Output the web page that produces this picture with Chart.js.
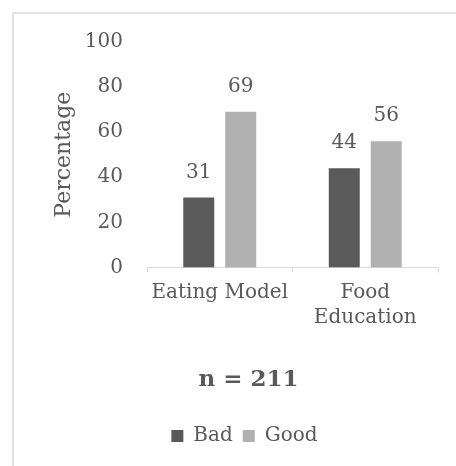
<!DOCTYPE html>
<html>
<head>
<meta charset="utf-8">
<script src="https://cdn.jsdelivr.net/npm/chart.js@4/dist/chart.umd.min.js"></script>
<style>
  html, body { margin: 0; padding: 0; background: #ffffff; overflow: hidden; }
  #wrap { position: relative; width: 456px; height: 466px; }
  #frame { position: absolute; left: 12px; top: 12px; width: 480px; height: 480px;
           border: 2px solid #e2e2e2; box-sizing: border-box; }
  #c { position: absolute; left: 0; top: 0; }
</style>
</head>
<body>
<div id="wrap">
  <div id="frame"></div>
  <canvas id="c" width="456" height="466"></canvas>
</div>
<script>
// Survey results by topic
const categories = ['Eating Model', ['Food', 'Education']];
const seriesNames = ['Bad', 'Good'];
const badValues = [31, 44];
const goodValues = [69, 56];
const yTicks = [0, 20, 40, 60, 80, 100];
const yTitle = 'Percentage';
const sampleTitle = 'n = 211';

const FONT = '"DejaVu Serif", "Liberation Serif", serif';
const TEXT = '#595959';
const AXIS = '#d9d9d9';

// Value labels above each bar, positioned from the bar elements
const valueLabels = {
  id: 'valueLabels',
  afterDatasetsDraw(chart) {
    const ctx = chart.ctx;
    ctx.save();
    ctx.font = '20px ' + FONT;
    ctx.fillStyle = TEXT;
    ctx.textAlign = 'center';
    ctx.textBaseline = 'middle';
    chart.data.datasets.forEach((ds, i) => {
      chart.getDatasetMeta(i).data.forEach((bar, j) => {
        ctx.fillText(String(ds.data[j]), bar.x, bar.y - 25);
      });
    });
    ctx.restore();
  }
};

// Nudge the sample-size caption slightly to the right
const titleNudge = {
  id: 'titleNudge',
  afterLayout(chart) {
    if (chart.titleBlock) {
      chart.titleBlock.left += 4;
      chart.titleBlock.right += 4;
    }
  }
};

new Chart(document.getElementById('c'), {
  type: 'bar',
  data: {
    labels: categories,
    datasets: [
      { label: seriesNames[0], data: badValues, backgroundColor: '#5a5a5a' },
      { label: seriesNames[1], data: goodValues, backgroundColor: '#b0b0b0' }
    ]
  },
  options: {
    responsive: false,
    devicePixelRatio: 1,
    animation: false,
    layout: { padding: { left: 51, right: 18, top: 42, bottom: 10 } },
    datasets: { bar: { categoryPercentage: 0.577, barPercentage: 0.738 } },
    scales: {
      x: {
        grid: { display: true, drawOnChartArea: false, drawTicks: true, tickLength: 5, color: AXIS, offset: true },
        border: { display: true, color: AXIS, width: 1 },
        ticks: { color: TEXT, font: { family: FONT, size: 20, lineHeight: 1.25 }, padding: 8, maxRotation: 0, autoSkip: false }
      },
      y: {
        min: 0, max: 100,
        afterBuildTicks(scale) { scale.ticks = yTicks.map(v => ({ value: v })); },
        afterFit(scale) { scale.width = 96; },
        grid: { display: false, drawTicks: false },
        border: { display: false },
        ticks: { color: TEXT, font: { family: FONT, size: 20 }, padding: 24 },
        title: { display: true, text: yTitle, color: TEXT, font: { family: FONT, size: 22 }, padding: { top: 0, bottom: 10 } }
      }
    },
    plugins: {
      legend: {
        position: 'bottom',
        labels: { color: TEXT, font: { family: FONT, size: 20 }, boxWidth: 12, boxHeight: 12, padding: 10 }
      },
      title: {
        display: true, position: 'bottom', weight: 500, text: sampleTitle, color: TEXT,
        font: { family: FONT, size: 23, weight: 'bold' }, padding: { top: 28, bottom: 22 }
      },
      tooltip: { enabled: false }
    }
  },
  plugins: [valueLabels, titleNudge]
});
</script>
</body>
</html>
